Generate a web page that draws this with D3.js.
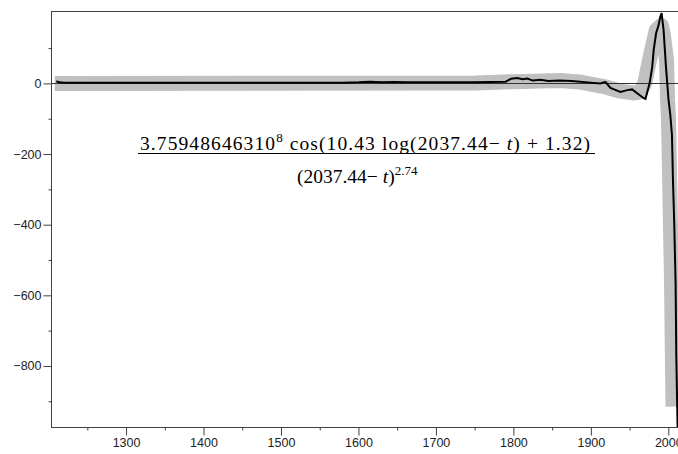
<!DOCTYPE html>
<html>
<head>
<meta charset="utf-8">
<script src="https://cdn.jsdelivr.net/npm/d3@7"></script>
<style>
  html, body { margin: 0; padding: 0; background: #fff; }
  svg { display: block; }
  .tick text { font-family: "Liberation Sans", Arial, sans-serif; font-size: 12.5px; fill: #222; }
  .formula { font-family: "Liberation Serif", "Times New Roman", serif; font-size: 19.5px; fill: #000; }
</style>
</head>
<body>
<svg id="chart" width="678" height="454"></svg>
<script>
// fitted log-periodic curve (grey band)
const fitYears = [1208, 1750, 1800, 1861, 1885, 1900, 1919, 1938, 1954, 1962, 1965,
  1969.6, 1975.7, 1984.4, 1991, 1993.5, 1997.7, 1999, 2000.3, 2002.2, 2004.1, 2006];
const fitValues = [0, 1, 5, 8, 4, -2, -10, -22, -27, -25, -18,
  0, 66, 151, 164, 140, 66, -47, -104, -331, -557, -915];

// observed series (black line)
const dataYears = [1210, 1214, 1220, 1300, 1400, 1500, 1580, 1600, 1615, 1630, 1645, 1660, 1700,
  1750, 1790, 1797, 1805, 1812, 1818, 1825, 1835, 1845, 1860, 1875, 1890,
  1900, 1912.4, 1916, 1919, 1925.3, 1938.2, 1946.9, 1953.3, 1959.8, 1968.3, 1970.5,
  1975.9, 1979.2, 1981.1, 1984.2, 1987.5, 1989.6, 1991.3, 1993.9, 1997, 2000.3,
  2002.6, 2004.7, 2006, 2007.7, 2009.4, 2010.3, 2012, 2013];
const dataValues = [6, 3, 2, 2, 2, 2, 2, 3, 5, 3, 4, 3, 3,
  3, 5, 13, 15, 12, 14, 8, 10, 7, 8, 7, 4,
  2, 0, 3, 4, -13, -24, -19, -17, -28, -42, -44,
  1, 46, 94, 142, 165, 189, 199, 151, 46, -47,
  -90, -146, -274, -401, -566, -770, -977, -1050];

const yMajor = [-800, -600, -400, -200, 0];
const yMinor = [-900, -700, -500, -300, -100, 100];
const xMajor = [1300, 1400, 1500, 1600, 1700, 1800, 1900, 2000];
const xMinor = [1250, 1350, 1450, 1550, 1650, 1750, 1850, 1950];

const svg = d3.select("#chart");
const plotLeft = 52, plotRight = 678, plotTop = 11, plotBottom = 428;

const x = d3.scaleLinear().domain([1204.4, 2012.5]).range([plotLeft, plotRight]);
const y = d3.scaleLinear().domain([-975.6, 205]).range([plotBottom, plotTop]);

const fmt = (d) => (d < 0 ? "\u2212" + Math.abs(d) : String(d));

const plot = svg.append("g");

// grey band: the fit
plot.append("path")
  .datum(fitYears.map((t, i) => [t, fitValues[i]]))
  .attr("fill", "none")
  .attr("stroke", "#c0c0c0")
  .attr("stroke-width", 15)
  .attr("stroke-linejoin", "round")
  .attr("stroke-linecap", "butt")
  .attr("d", d3.line().x((d) => x(d[0])).y((d) => y(d[1])));

// zero line
plot.append("line")
  .attr("x1", plotLeft).attr("x2", plotRight)
  .attr("y1", Math.round(y(0)) + 0.5).attr("y2", Math.round(y(0)) + 0.5)
  .attr("stroke", "#333")
  .attr("stroke-width", 1);

// black data line
plot.append("path")
  .datum(dataYears.map((t, i) => [t, dataValues[i]]))
  .attr("fill", "none")
  .attr("stroke", "#000")
  .attr("stroke-width", 2)
  .attr("d", d3.line().x((d) => x(d[0])).y((d) => y(d[1])));

// white mask below the frame so the black line ends at the axis
svg.append("rect")
  .attr("x", 0).attr("y", plotBottom).attr("width", 678).attr("height", 454 - plotBottom)
  .attr("fill", "#fff");

// axes
const axisColor = "#404040";

svg.append("g")
  .attr("transform", `translate(${plotLeft - 0.5},0)`)
  .call(d3.axisLeft(y).tickValues(yMajor).tickSize(8).tickPadding(2).tickFormat(fmt).tickSizeOuter(0));
svg.append("g")
  .attr("transform", `translate(${plotLeft - 0.5},0)`)
  .call(d3.axisLeft(y).tickValues(yMinor).tickSize(3).tickFormat("").tickSizeOuter(0));

svg.append("g")
  .attr("transform", `translate(0,${plotBottom - 0.5})`)
  .call(d3.axisBottom(x).tickValues(xMajor).tickSize(8).tickPadding(3).tickFormat(d3.format("d")).tickSizeOuter(0));
svg.append("g")
  .attr("transform", `translate(0,${plotBottom - 0.5})`)
  .call(d3.axisBottom(x).tickValues(xMinor).tickSize(3).tickFormat("").tickSizeOuter(0));

svg.selectAll(".tick line").attr("stroke", axisColor);
svg.selectAll(".domain").remove();

// frame lines
svg.append("line")
  .attr("x1", plotLeft - 0.5).attr("x2", plotLeft - 0.5).attr("y1", plotTop).attr("y2", plotBottom)
  .attr("stroke", axisColor);
svg.append("line")
  .attr("x1", plotLeft - 0.5).attr("x2", plotRight).attr("y1", plotBottom - 0.5).attr("y2", plotBottom - 0.5)
  .attr("stroke", axisColor);
svg.append("line")
  .attr("x1", plotLeft - 0.5).attr("x2", plotRight).attr("y1", plotTop + 0.5).attr("y2", plotTop + 0.5)
  .attr("stroke", axisColor);

// formula annotation
const num = svg.append("text")
  .attr("class", "formula")
  .attr("x", 140)
  .attr("y", 150)
  .attr("textLength", 450)
  .attr("lengthAdjust", "spacing");
num.append("tspan").text("3.75948646310");
num.append("tspan").attr("dy", -8).attr("font-size", "13px").text("8");
num.append("tspan").attr("dy", 8).text(" cos(10.43 log(2037.44\u2212 ");
num.append("tspan").attr("font-style", "italic").text("t");
num.append("tspan").text(") + 1.32)");

svg.append("line")
  .attr("x1", 138).attr("x2", 595)
  .attr("y1", 153.5).attr("y2", 153.5)
  .attr("stroke", "#000")
  .attr("stroke-width", 1);

const den = svg.append("text")
  .attr("class", "formula")
  .attr("x", 297)
  .attr("y", 183);
den.append("tspan").text("(2037.44\u2212 ");
den.append("tspan").attr("font-style", "italic").text("t");
den.append("tspan").text(")");
den.append("tspan").attr("dy", -8).attr("font-size", "13px").text("2.74");
</script>
</body>
</html>
